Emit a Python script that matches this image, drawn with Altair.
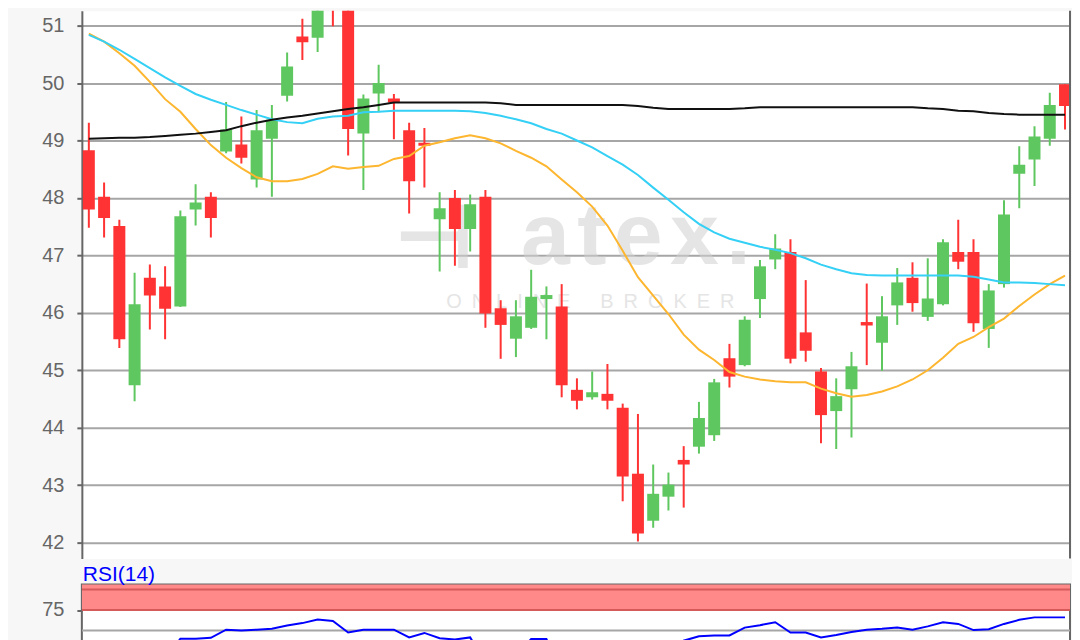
import altair as alt
import pandas as pd
import numpy as np

# ---------------- data ----------------
idx = list(range(65))
opens = [48.83, 48.02, 47.51, 44.74, 46.61, 46.46, 46.11, 47.80, 48.02, 48.81,
         48.93, 48.32, 49.03, 49.78, 50.81, 50.79, 51.60, 51.50, 49.12, 49.82,
         49.73, 49.18, 48.96, 47.63, 48.00, 47.46, 48.02, 46.08, 45.55, 45.74,
         46.24, 46.11, 44.66, 44.53, 44.59, 44.35, 43.20, 42.38, 42.80, 43.44,
         43.67, 43.87, 45.21, 45.09, 46.24, 46.93, 47.06, 45.66, 44.98, 44.29,
         44.67, 45.84, 45.48, 46.13, 46.61, 45.93, 46.15, 47.06, 47.06, 45.72,
         46.50, 48.42, 48.67, 49.03, 49.98]
highs = [49.31, 48.27, 47.62, 46.70, 46.84, 46.81, 47.78, 48.24, 48.10, 49.67,
         49.42, 49.53, 49.62, 50.53, 51.12, 51.90, 51.80, 51.70, 49.80, 50.32,
         49.81, 49.31, 49.22, 48.10, 48.14, 48.06, 48.14, 46.22, 46.22, 46.75,
         46.46, 46.50, 44.86, 44.98, 45.11, 44.42, 44.24, 43.36, 43.22, 43.68,
         44.45, 44.85, 45.46, 45.94, 46.92, 47.37, 47.28, 46.57, 45.04, 44.86,
         45.32, 46.51, 46.29, 46.78, 46.88, 46.95, 47.28, 47.62, 47.28, 46.50,
         47.96, 48.90, 49.25, 49.83, 49.98]
lows = [47.48, 47.31, 45.39, 44.46, 45.71, 45.54, 46.10, 47.52, 47.31, 48.78,
        48.60, 48.18, 48.02, 49.68, 50.40, 50.54, 50.99, 48.74, 48.14, 49.49,
        49.02, 47.73, 48.18, 46.72, 46.82, 47.07, 45.74, 45.20, 45.23, 45.72,
        45.54, 44.53, 44.32, 44.49, 44.32, 42.72, 42.02, 42.26, 42.56, 42.61,
        43.55, 43.77, 44.70, 45.07, 45.91, 46.76, 45.12, 45.15, 43.73, 43.63,
        43.83, 45.09, 44.99, 45.79, 46.02, 45.86, 46.13, 46.76, 45.67, 45.39,
        46.44, 47.82, 48.21, 48.91, 49.19]
closes = [47.80, 47.65, 45.54, 46.15, 46.30, 46.07, 47.68, 47.92, 47.65, 49.19,
          48.70, 49.18, 49.36, 50.29, 50.71, 51.60, 51.27, 49.20, 49.73, 50.00,
          49.66, 48.29, 48.91, 47.82, 47.46, 47.89, 45.99, 45.79, 45.94, 46.28,
          46.31, 44.74, 44.47, 44.62, 44.47, 43.15, 42.16, 42.85, 43.01, 43.36,
          44.17, 44.79, 44.89, 45.88, 46.81, 47.12, 45.20, 45.34, 44.22, 44.55,
          45.07, 45.78, 45.94, 46.53, 46.17, 46.25, 47.23, 46.89, 45.82, 46.39,
          47.71, 48.58, 49.07, 49.62, 49.60]
ma_orange = [50.86, 50.72, 50.52, 50.30, 50.02, 49.72, 49.50, 49.20, 48.92, 48.70,
             48.52, 48.36, 48.29, 48.29, 48.33, 48.42, 48.55, 48.51, 48.54, 48.56,
             48.68, 48.73, 48.91, 48.97, 49.04, 49.09, 49.04, 48.95, 48.82, 48.70,
             48.55, 48.32, 48.10, 47.85, 47.52, 47.08, 46.62, 46.30, 45.98, 45.62,
             45.36, 45.18, 44.97, 44.89, 44.84, 44.81, 44.79, 44.79, 44.68, 44.60,
             44.54, 44.57, 44.63, 44.72, 44.84, 45.00, 45.22, 45.46, 45.58, 45.75,
             45.90, 46.12, 46.32, 46.50, 46.65]
ma_cyan = [50.84, 50.72, 50.58, 50.42, 50.26, 50.10, 49.95, 49.81, 49.71, 49.62,
           49.53, 49.45, 49.37, 49.32, 49.30, 49.38, 49.42, 49.43, 49.49, 49.50,
           49.52, 49.52, 49.52, 49.52, 49.52, 49.51, 49.48, 49.43, 49.37, 49.30,
           49.20, 49.12, 49.00, 48.88, 48.73, 48.58, 48.40, 48.18, 47.97, 47.75,
           47.55, 47.40, 47.29, 47.22, 47.15, 47.10, 47.04, 46.95, 46.84, 46.76,
           46.69, 46.66, 46.65, 46.65, 46.65, 46.65, 46.65, 46.65, 46.63, 46.58,
           46.53, 46.53, 46.52, 46.50, 46.48]
ma_black = [49.03, 49.04, 49.05, 49.05, 49.06, 49.08, 49.10, 49.12, 49.15, 49.18,
            49.25, 49.31, 49.36, 49.40, 49.43, 49.47, 49.51, 49.55, 49.58, 49.62,
            49.66, 49.66, 49.66, 49.66, 49.66, 49.66, 49.66, 49.65, 49.62, 49.62,
            49.62, 49.62, 49.62, 49.62, 49.62, 49.62, 49.60, 49.57, 49.55, 49.55,
            49.55, 49.55, 49.55, 49.56, 49.58, 49.58, 49.58, 49.58, 49.58, 49.58,
            49.58, 49.58, 49.58, 49.58, 49.58, 49.56, 49.55, 49.52, 49.51, 49.48,
            49.46, 49.45, 49.45, 49.45, 49.45]
rsi = [55.0, 52.0, 46.0, 51.0, 52.0, 63.0, 68.0, 68.0, 68.2, 70.2,
       70.0, 70.2, 70.4, 71.2, 71.8, 72.7, 72.3, 69.5, 70.2, 70.2,
       70.2, 68.3, 69.4, 68.1, 67.8, 68.3, 62.0, 60.0, 64.0, 67.9,
       67.9, 60.0, 58.0, 59.0, 58.0, 52.0, 48.0, 53.0, 60.0, 67.5,
       68.6, 68.8, 68.8, 70.7, 71.3, 72.0, 69.5, 69.5, 68.3, 68.9,
       69.6, 70.2, 70.4, 70.7, 70.2, 71.0, 72.0, 71.6, 70.1, 70.3,
       71.6, 72.6, 73.2, 73.2, 73.2]

price_ticks = [42, 43, 44, 45, 46, 47, 48, 49, 50, 51]
price_domain = [41.722, 51.261]
x_domain = [-0.4575, 64.327]
rsi_domain = [56.83, 81.22]
rsi_ticks = [75]
rsi_grid = [70]
rsi_levels = [75, 80]
rsi_zone = [75, 100]
logo_mark = "\u22a3"
logo_word = "a\u200at\u200ae\u200ax\u200a."
logo_sub = "\u2002".join("ONLINE") + "\u2002\u2002\u2002" + "\u2002".join("BROKER")

GREEN = "#5fc75f"
RED = "#ff3333"
GRID = "#a6a6a6"
AXC = "#666666"
FONT = "Liberation Sans"
W = 990

df = pd.DataFrame(dict(i=idx, open=opens, high=highs, low=lows, close=closes,
                       ma20=ma_orange, ma50=ma_cyan, ma200=ma_black, rsi=rsi))
df["dir"] = np.where(df["close"] >= df["open"], "up", "down")
df["body_lo"] = df[["open", "close"]].min(axis=1)
df["body_hi"] = df[["open", "close"]].max(axis=1)

# ---------------- price panel ----------------
xs = alt.Scale(domain=x_domain, nice=False, zero=False, padding=0)
x_enc = alt.X("i:Q", scale=xs,
              axis=alt.Axis(labels=False, ticks=False, grid=False, domain=True,
                            domainColor=AXC, domainWidth=2, title=None,
                            minExtent=0, maxExtent=0))
ys = alt.Scale(domain=price_domain, nice=False, zero=False, padding=0)
yaxis = alt.Axis(values=price_ticks, format="d", title=None, labelFont=FONT,
                 labelFontSize=20, labelColor=AXC, tickSize=5, tickColor=AXC,
                 tickWidth=2, labelPadding=13, domainColor=AXC, domainWidth=2,
                 gridColor=GRID, gridWidth=2, minExtent=73, maxExtent=73)
color = alt.Color("dir:N", scale=alt.Scale(domain=["up", "down"], range=[GREEN, RED]),
                  legend=None)

base = alt.Chart(df)

wm_color = "#d0d0d0"
wm_logo = alt.Chart(pd.DataFrame({"t": [logo_mark]})).mark_text(
    font="DejaVu Sans", fontWeight="bold", fontSize=90, color=wm_color, opacity=0.55,
    align="left", baseline="alphabetic").encode(
    x=alt.value(312), y=alt.value(258), text="t:N")
wm_word = alt.Chart(pd.DataFrame({"t": [logo_word]})).mark_text(
    font=FONT, fontWeight="bold", fontSize=88, color=wm_color, opacity=0.55,
    align="left", baseline="alphabetic").encode(
    x=alt.value(440), y=alt.value(254), text="t:N")
wm_sub = alt.Chart(pd.DataFrame({"t": [logo_sub]})).mark_text(
    font=FONT, fontSize=20, color=wm_color, opacity=0.55,
    align="left", baseline="alphabetic").encode(
    x=alt.value(365), y=alt.value(298), text="t:N")

wick = base.mark_rule(strokeWidth=2, clip=True).encode(
    x=x_enc, y=alt.Y("low:Q", scale=ys, axis=yaxis), y2="high:Q", color=color)
body = base.mark_bar(size=12, clip=True).encode(
    x=x_enc, y=alt.Y("body_lo:Q", scale=ys, axis=yaxis), y2="body_hi:Q", color=color)

lines = []
for col, c in [("ma20", "#fdb62f"), ("ma50", "#35d0f5"), ("ma200", "#111111")]:
    lines.append(base.mark_line(color=c, strokeWidth=2, clip=True).encode(
        x=x_enc, y=alt.Y(f"{col}:Q", scale=ys, axis=yaxis)))

right_border = alt.Chart(pd.DataFrame({"xb": [x_domain[1]]})).mark_rule(
    color=AXC, strokeWidth=2).encode(x=alt.X("xb:Q", scale=xs, axis=None))

price = alt.layer(wm_logo, wm_word, wm_sub, wick, body, *lines, right_border).properties(
    width=W, height=549,
    view=alt.ViewBackground(fill="white", stroke="transparent"))

# ---------------- RSI panel ----------------
rx = alt.X("i:Q", scale=xs, axis=None)
rys = alt.Scale(domain=rsi_domain, nice=False, zero=False, padding=0)
raxis = alt.Axis(values=rsi_ticks, title=None, grid=False, domain=False,
                 labelFont=FONT, labelFontSize=20, labelColor=AXC, tickSize=5,
                 tickColor=AXC, tickWidth=2, labelPadding=13,
                 minExtent=73, maxExtent=73)

zone = alt.Chart(pd.DataFrame({"lo": [rsi_zone[0]], "hi": [rsi_zone[1]]})).mark_rect(
    color="#ff8888", clip=True).encode(
    x=alt.value(0), x2=alt.value(W),
    y=alt.Y("lo:Q", scale=rys, axis=raxis), y2="hi:Q")
levels = alt.Chart(pd.DataFrame({"v": rsi_levels})).mark_rule(
    color="#d65a5a", strokeWidth=2, clip=True).encode(
    y=alt.Y("v:Q", scale=rys, axis=raxis))
grid = alt.Chart(pd.DataFrame({"v": rsi_grid})).mark_rule(
    color=GRID, strokeWidth=2, clip=True).encode(
    y=alt.Y("v:Q", scale=rys, axis=raxis))
rsi_line = base.mark_line(color="#0000ff", strokeWidth=2, clip=True).encode(
    x=rx, y=alt.Y("rsi:Q", scale=rys, axis=raxis))

rsi_panel = alt.layer(zone, grid, levels, rsi_line).properties(
    width=W, height=100,
    title=alt.TitleParams("RSI(14)", anchor="start", frame="group", color="#0000ff",
                          fontSize=21, font=FONT, fontWeight="normal", offset=0, dx=1),
    view=alt.ViewBackground(fill="white", stroke=AXC, strokeWidth=2))

chart = alt.vconcat(price, rsi_panel, spacing=2).properties(
    padding=0, background="#f7f7f7")

chart.save("out.html", embed_options={"renderer": "svg", "actions": False})
